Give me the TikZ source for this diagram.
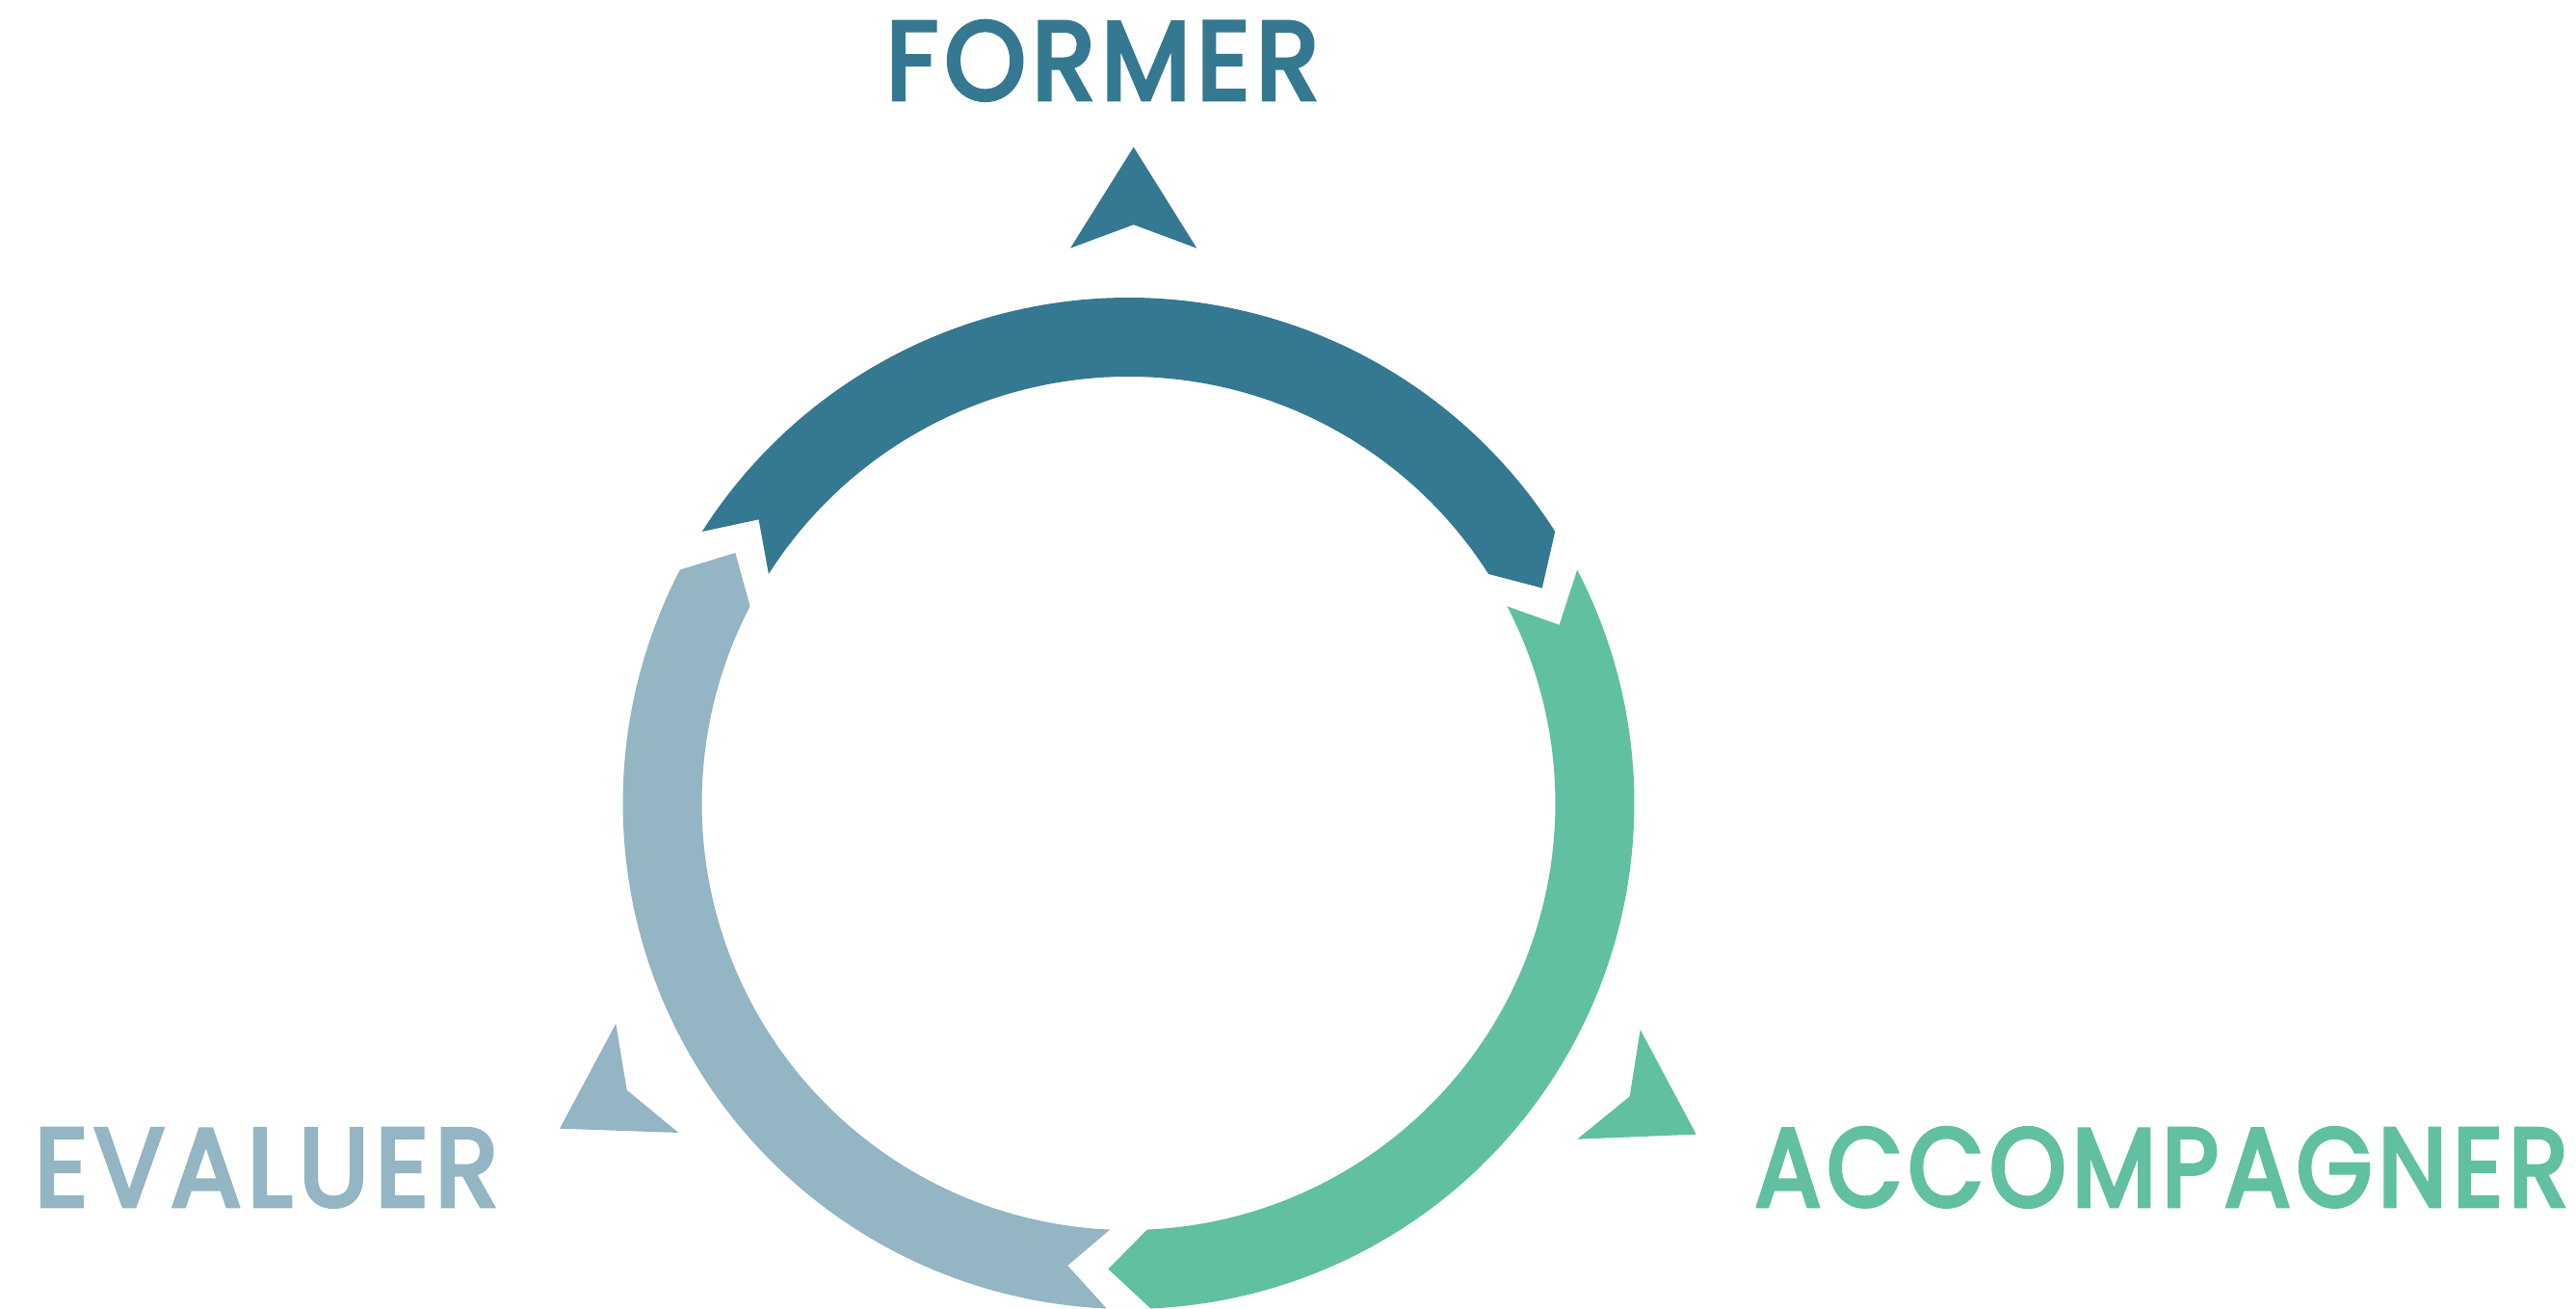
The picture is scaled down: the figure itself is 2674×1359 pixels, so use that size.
\documentclass[tikz,border=0pt]{standalone}
\usepackage{fontspec}
\setmainfont{Poppins}
\definecolor{cform}{RGB}{53,120,145}
\definecolor{ceval}{RGB}{147,181,196}
\definecolor{cacc}{RGB}{97,191,162}
\newcommand{\spacedlabel}[3]{\resizebox{#1}{#2}{\fontsize{32.6}{36}\selectfont\addfontfeatures{LetterSpace=6,FakeBold=4}#3\kern-0.06em}}
\begin{document}
\begin{tikzpicture}[x=0.1mm,y=0.1mm]
\tikzset{lbl/.style={anchor=base west, inner sep=0pt}}
\useasboundingbox (0,0) rectangle (2674,1359);
\begin{scope}[shift={(1171.5,525)}]
\fill[cform] (147.5:525) arc[start angle=147.5,end angle=32.5,radius=525] -- (27.5:484) -- (32.5:443) arc[start angle=32.5,end angle=147.5,radius=443] -- (142.5:484) -- cycle;
\fill[cacc] (27.5:525) arc[start angle=27.5,end angle=-87.5,radius=525] -- (-92.5:484) -- (-87.5:443) arc[start angle=-87.5,end angle=27.5,radius=443] -- (22.5:484) -- cycle;
\fill[ceval] (-92.5:525) arc[start angle=-92.5,end angle=-207.5,radius=525] -- (-212.5:484) -- (-207.5:443) arc[start angle=-207.5,end angle=-92.5,radius=443] -- (-97.5:484) -- cycle;
\end{scope}
\fill[cform] (1176.7,1206.3) -- (1242.3,1101.3) -- (1176.7,1125.7) -- (1111,1101.3) -- cycle;
\fill[ceval] (639.3,296.3) -- (650.7,227.3) -- (704.3,183) -- (581,187.3) -- cycle;
\fill[cacc] (1702.7,290) -- (1760.7,181.3) -- (1637.3,176.3) -- (1691.7,220.7) -- cycle;
\node[lbl, text=cform] (former) at (919,1256) {\spacedlabel{44.3mm}{8.1mm}{FORMER}};
\node[lbl, text=ceval] (evaluer) at (35,107) {\spacedlabel{47.5mm}{8.0mm}{EVALUER}};
\node[lbl, text=cacc] (accomp) at (1821,107) {\spacedlabel{83.8mm}{8.1mm}{ACCOMPAGNER}};
\end{tikzpicture}
\end{document}
